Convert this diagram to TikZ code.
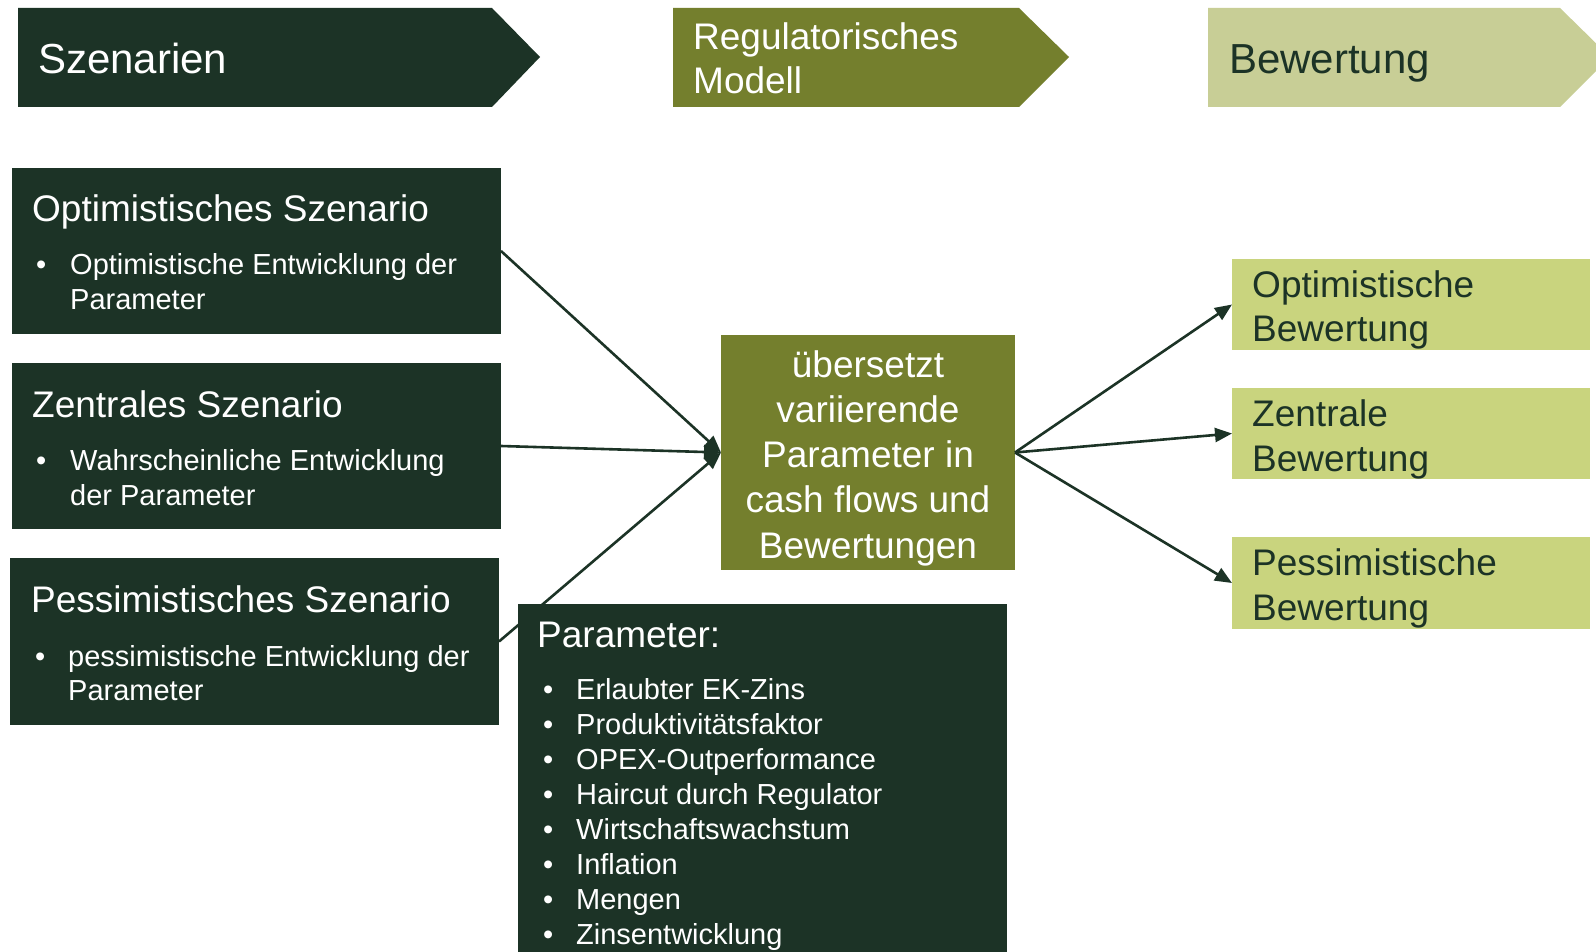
\documentclass[tikz,border=0pt]{standalone}
\usepackage{fontspec}
\setmainfont{Liberation Sans}
\usetikzlibrary{arrows.meta}
\definecolor{dkgreen}{RGB}{28,51,38}
\definecolor{olive}{RGB}{116,127,45}
\definecolor{paleA}{RGB}{200,206,150}
\definecolor{paleB}{RGB}{201,212,126}
\tikzset{
  box/.style={inner sep=0pt, outer sep=0pt, minimum width=#1},
  dkbox/.style={box=489pt, fill=dkgreen},
  rbox/.style={box=358pt, fill=paleB},
  wl/.style={text=white, inner sep=0pt, anchor=base west},
  dl/.style={text=dkgreen, inner sep=0pt, anchor=base west},
  hugefont/.style={font=\fontsize{42}{48}\selectfont},
  bigfont/.style={font=\fontsize{37}{44}\selectfont},
  smallfont/.style={font=\fontsize{29}{35}\selectfont},
  arr/.style={draw=dkgreen, line width=2.6pt, -{Triangle[length=17pt,width=14pt]}},
}
\begin{document}
\begin{tikzpicture}[x=1pt,y=-1pt]
\useasboundingbox (0,0) rectangle (1596,952);
\fill[white] (0,0) rectangle (1596,952);

% top chevrons
\fill[dkgreen] (18,8) -- (492,8) -- (540,57) -- (492,107) -- (18,107) -- cycle;
\node[wl, hugefont] (tSz) at (38,74) {Szenarien};
\fill[olive] (673,8) -- (1019,8) -- (1069,57) -- (1019,107) -- (673,107) -- cycle;
\node[wl, bigfont] (tReg1) at (693,50) {Regulatorisches};
\node[wl, bigfont] (tReg2) at (693,94) {Modell};
\fill[paleA] (1208,8) -- (1560,8) -- (1610,57) -- (1560,107) -- (1208,107) -- cycle;
\node[dl, hugefont] (tBew) at (1229,74) {Bewertung};

% left scenario boxes
\node[dkbox, minimum height=166pt] (L1) at (256.5,251) {};
\node[wl, bigfont] (L1t) at (32,222) {Optimistisches Szenario};
\node[wl, smallfont] (L1b) at (36,275) {•};
\node[wl, smallfont] (L1a) at (70,275) {Optimistische Entwicklung der};
\node[wl, smallfont] (L1c) at (70,309) {Parameter};

\node[dkbox, minimum height=166pt] (L2) at (256.5,446) {};
\node[wl, bigfont] (L2t) at (32,417) {Zentrales Szenario};
\node[wl, smallfont] (L2b) at (36,470) {•};
\node[wl, smallfont] (L2a) at (70,470) {Wahrscheinliche Entwicklung};
\node[wl, smallfont] (L2c) at (70,505) {der Parameter};

\node[dkbox, minimum height=167pt] (L3) at (254.5,641.5) {};
\node[wl, bigfont] (L3t) at (31,612) {Pessimistisches Szenario};
\node[wl, smallfont] (L3b) at (35,666) {•};
\node[wl, smallfont] (L3a) at (68,666) {pessimistische Entwicklung der};
\node[wl, smallfont] (L3c) at (68,700) {Parameter};

% center box
\node[box=294pt, minimum height=235pt, fill=olive] (C) at (868,452.5) {};
\foreach \t [count=\i] in {übersetzt, variierende, Parameter in, cash flows und, Bewertungen}
  \node[text=white, inner sep=0pt, anchor=base, bigfont] (C\i) at (868,{377+45.3*(\i-1)}) {\t};

% right boxes
\node[rbox, minimum height=91pt] (R1) at (1411,304.5) {};
\node[dl, bigfont] (R1a) at (1252,297) {Optimistische};
\node[dl, bigfont] (R1b) at (1252,341) {Bewertung};
\node[rbox, minimum height=91pt] (R2) at (1411,433.5) {};
\node[dl, bigfont] (R2a) at (1252,426) {Zentrale};
\node[dl, bigfont] (R2b) at (1252,471) {Bewertung};
\node[rbox, minimum height=92pt] (R3) at (1411,583) {};
\node[dl, bigfont] (R3a) at (1252,575) {Pessimistische};
\node[dl, bigfont] (R3b) at (1252,620) {Bewertung};

% connectors
\draw[arr] (L1.east) -- (C.west);
\draw[arr] (L2.east) -- (C.west);
\draw[arr] (L3.east) -- (C.west);
\draw[arr] (C.east) -- (R1.west);
\draw[arr] (C.east) -- (R2.west);
\draw[arr] (C.east) -- (R3.west);

% parameter box
\node[dkbox, minimum height=348pt] (P) at (762.5,778) {};
\node[wl, bigfont] (Pt) at (537,647) {Parameter:};
\foreach \t [count=\i] in {Erlaubter EK-Zins, Produktivitätsfaktor, OPEX-Outperformance, Haircut durch Regulator, Wirtschaftswachstum, Inflation, Mengen, Zinsentwicklung}{
  \node[wl, smallfont] (Pb\i) at (543,{699+35.1*(\i-1)}) {•};
  \node[wl, smallfont] (Pi\i) at (576,{699+35.1*(\i-1)}) {\t};
}
\end{tikzpicture}
\end{document}
